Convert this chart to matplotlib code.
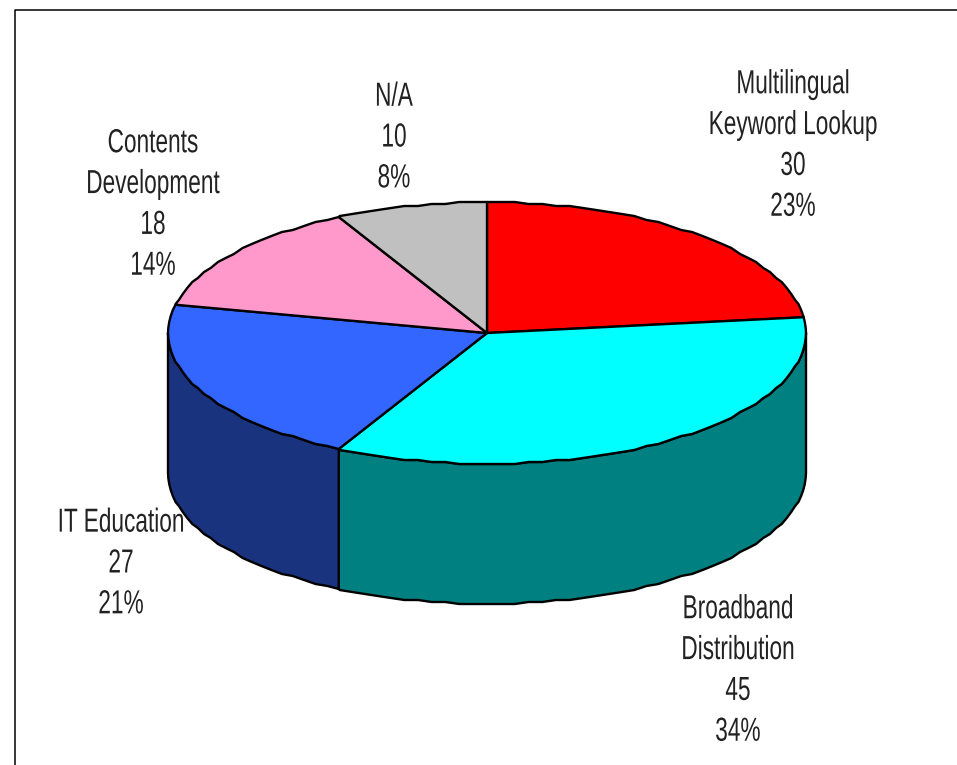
import numpy as np
import matplotlib
matplotlib.use('Agg')
import matplotlib.pyplot as plt
import matplotlib.patheffects as pe
from matplotlib.patches import Polygon
from matplotlib.transforms import Affine2D

# slices, clockwise from twelve o'clock
names = ['Multilingual\nKeyword Lookup', 'Broadband\nDistribution', 'IT Education',
         'Contents\nDevelopment', 'N/A']
values = [30, 45, 27, 18, 10]
percents = [23, 34, 21, 14, 8]
top_colors = ['#ff0000', '#00ffff', '#3366ff', '#ff99cc', '#c0c0c0']
side_colors = ['#800000', '#008080', '#1a337f', '#804c66', '#606060']

# centre of each label block, in pixels
label_x = [793, 738, 121, 153, 394]
label_y = [146, 671, 564, 205, 138]

W, H = 957, 765
cx, cy = 487, 333
rx, ry = 319, 131
depth = 140


class Squeeze(pe.AbstractPathEffect):
    # condensed lettering: scale glyphs horizontally around the block centre
    def __init__(self, x0, factor):
        super().__init__()
        self.x0 = x0
        self.factor = factor

    def draw_path(self, renderer, gc, tpath, affine, rgbFace=None):
        squeeze = Affine2D().translate(-self.x0, 0).scale(self.factor, 1).translate(self.x0, 0)
        renderer.draw_path(gc, tpath, affine + squeeze, rgbFace)


def rim(a0, a1, drop=0):
    # points along the ellipse, angles in radians clockwise from the top;
    # a shared angle grid keeps wall and top outlines on the same steps
    grid = np.radians(np.arange(0, 360, 2.5))
    inner = grid[(grid > a0) & (grid < a1)]
    x = cx + rx * np.sin(inner)
    y = np.round((cy - ry * np.cos(inner)) / 2) * 2 + drop
    x = np.concatenate([[cx + rx * np.sin(a0)], x, [cx + rx * np.sin(a1)]])
    y = np.concatenate([[cy - ry * np.cos(a0) + drop], y, [cy - ry * np.cos(a1) + drop]])
    return np.column_stack([x, y])


fig = plt.figure(figsize=(W / 100, H / 100), dpi=100)
ax = fig.add_axes([0, 0, 1, 1])
ax.set_xlim(0, W)
ax.set_ylim(H, 0)
ax.axis('off')

# frame: only left and top edges fall inside the image
ax.plot([14.5, 14.5, W], [H, 10, 10], color='black', lw=1.1)

edges = np.radians(np.cumsum([0] + values) / sum(values) * 360)
lw = 1.7

# side wall, only the front half of the cylinder shows
for i in range(len(values)):
    a0 = max(edges[i], np.pi / 2)
    a1 = min(edges[i + 1], 3 * np.pi / 2)
    if a0 >= a1:
        continue
    pts = np.vstack([rim(a0, a1), rim(a0, a1, depth)[::-1]])
    ax.add_patch(Polygon(pts, closed=True, fc=side_colors[i], ec='black', lw=lw, joinstyle='round'))

# top face
for i in range(len(values)):
    pts = np.vstack([[cx, cy], rim(edges[i], edges[i + 1])])
    ax.add_patch(Polygon(pts, closed=True, fc=top_colors[i], ec='black', lw=lw, joinstyle='round'))

for i in range(len(values)):
    txt = ax.text(label_x[i], label_y[i], f'{names[i]}\n{values[i]}\n{percents[i]}%',
                  ha='center', va='center', multialignment='center',
                  family='Liberation Sans', fontsize=24,
                  linespacing=1.41, color='#222222')
    txt.set_path_effects([Squeeze(ax.transData.transform((label_x[i], 0))[0], 0.68)])

fig.savefig('out.png', dpi=100)
